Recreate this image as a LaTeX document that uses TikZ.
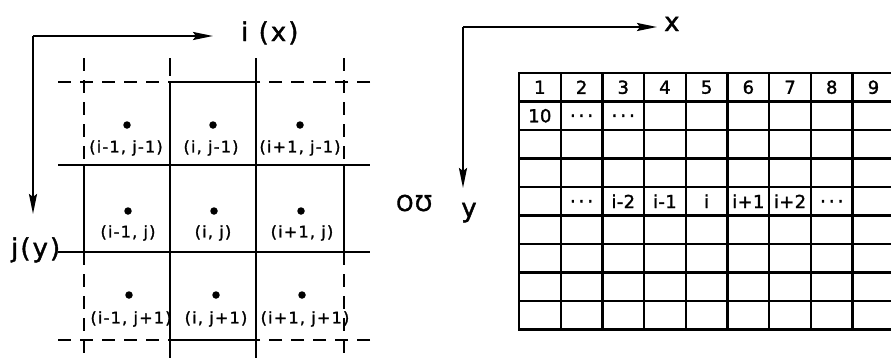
\documentclass[tikz,border=0pt]{standalone}
\usepackage{fontspec}
\setmainfont{DejaVu Sans}
\newfontfamily\lblfont[LetterSpace=8,FakeBold=1.6]{DejaVu Sans}
\newfontfamily\gridfont[LetterSpace=2,FakeBold=1.6]{DejaVu Sans}
\usetikzlibrary{arrows.meta}
\begin{document}
\begin{tikzpicture}[x=1bp,y=-1bp,
  solidline/.style={line width=2.3bp},
  dashline/.style={line width=2.3bp, dash pattern=on 13bp off 9bp},
  axis/.style={line width=2.2bp, -{Stealth[length=20bp,width=8bp,inset=3bp]}},
  celllbl/.style={font=\lblfont\fontsize{16}{18}\selectfont, inner sep=0pt},
  gridlbl/.style={font=\gridfont\fontsize{18}{20}\selectfont, inner sep=0pt},
  axislbl/.style={font=\lblfont\fontsize{26}{28}\selectfont, inner sep=0pt},
  celldot/.style={circle, fill, inner sep=0pt, minimum size=7.5bp}]
\useasboundingbox (0,0) rectangle (891,358);

% ---------- left diagram: axes ----------
\coordinate (Lo) at (33,36);
\coordinate (Lx) at (213,36);
\coordinate (Ly) at (33,214);
\draw[axis] (Lo) -- (Lx);
\draw[axis] (Lo) -- (Ly);
\node[axislbl, anchor=base west] (lix) at (241,41) {i (x)};
\node[axislbl, anchor=base west] (ljy) at (11,257) {j(y)};

% ---------- left diagram: stencil grid ----------
\draw[dashline] (58,82) -- (170,82);
\draw[solidline] (170,82) -- (256,82);
\draw[dashline] (370,82) -- (256,82);
\draw[solidline] (58,165) -- (370,165);
\draw[solidline] (58,252) -- (370,252);
\draw[dashline] (58,340) -- (170,340);
\draw[solidline] (170,340) -- (256,340);
\draw[dashline] (370,340) -- (256,340);
\draw[dashline] (84,58) -- (84,165);
\draw[solidline] (84,165) -- (84,252);
\draw[dashline] (84,252) -- (84,358);
\draw[solidline] (170,58) -- (170,76);
\draw[solidline] (170,82) -- (170,358);
\draw[solidline] (256,58) -- (256,358);
\draw[dashline] (344,58) -- (344,165);
\draw[solidline] (344,165) -- (344,252);
\draw[dashline] (344,252) -- (344,358);

\node[celldot] (d11) at (127,125) {};
\node[celldot] (d21) at (213,125) {};
\node[celldot] (d31) at (300,125) {};
\node[celldot] (d12) at (128,211) {};
\node[celldot] (d22) at (214,211) {};
\node[celldot] (d32) at (301,211) {};
\node[celldot] (d13) at (129,295) {};
\node[celldot] (d23) at (216,295) {};
\node[celldot] (d33) at (302,295) {};
\node[celllbl] (l11) at (126,148) {(i-1, j-1)};
\node[celllbl] (l21) at (211,148) {(i, j-1)};
\node[celllbl] (l31) at (300,148) {(i+1, j-1)};
\node[celllbl] (l12) at (128,233) {(i-1, j)};
\node[celllbl] (l22) at (213,233) {(i, j)};
\node[celllbl] (l32) at (302,233) {(i+1, j)};
\node[celllbl] (l13) at (131,319) {(i-1, j+1)};
\node[celllbl] (l23) at (216,319) {(i, j+1)};
\node[celllbl] (l33) at (305,319) {(i+1, j+1)};

% ---------- middle label ----------
\node[font=\lblfont\fontsize{22}{24}\selectfont, inner sep=0pt, anchor=base west] (oo) at (396,211) {OƱ};

% ---------- right diagram: axes ----------
\coordinate (Ro) at (463,27);
\coordinate (Rx) at (657,27);
\coordinate (Ry) at (463,188);
\draw[axis] (Ro) -- (Rx);
\draw[axis] (Ro) -- (Ry);
\node[axislbl, anchor=base west] (rx) at (664,31) {x};
\node[axislbl, anchor=base] (ry) at (469,217) {y};

% ---------- right diagram: numbering grid ----------
\foreach \k in {0,1,2,3,4,5,6,7,8,9}{
  \draw[solidline] ({519+41.7*\k},73) -- ({519+41.7*\k},330);
}
\foreach \r in {0,1,2,3,4,5,6,7,8,9}{
  \draw[solidline] (518,{73+28.5*\r}) -- (891,{73+28.5*\r});
}
\foreach \t [count=\c] in {1,2,3,4,5,6,7,8,9}{
  \node[gridlbl] (n\c) at ({519+41.7*(\c-0.5)},{73+28.5*0.5}) {\t};
}
\node[gridlbl] (n10) at ({519+41.7*0.5},{73+28.5*1.5}) {10};
\node[gridlbl] (e2a) at ({519+41.7*1.5},{73+28.5*1.5}) {.\,.\,.};
\node[gridlbl] (e2b) at ({519+41.7*2.5},{73+28.5*1.5}) {.\,.\,.};
\node[gridlbl] (r2) at ({519+41.7*1.5},{73+28.5*4.5}) {.\,.\,.};
\node[gridlbl] (r3) at ({519+41.7*2.5},{73+28.5*4.5}) {i-2};
\node[gridlbl] (r4) at ({519+41.7*3.5},{73+28.5*4.5}) {i-1};
\node[gridlbl] (r5) at ({519+41.7*4.5},{73+28.5*4.5}) {i};
\node[gridlbl] (r6) at ({519+41.7*5.5},{73+28.5*4.5}) {i+1};
\node[gridlbl] (r7) at ({519+41.7*6.5},{73+28.5*4.5}) {i+2};
\node[gridlbl] (r8) at ({519+41.7*7.5},{73+28.5*4.5}) {.\,.\,.};
\end{tikzpicture}
\end{document}
